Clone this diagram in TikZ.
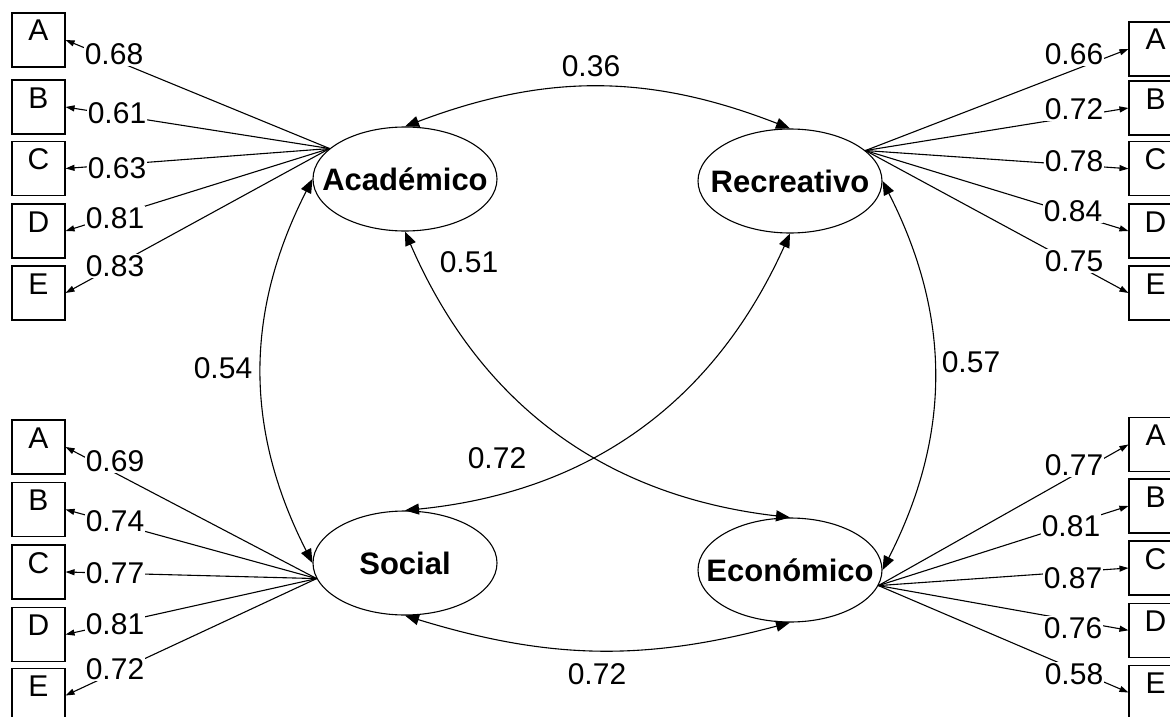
\documentclass[tikz,border=0pt]{standalone}
\usepackage{fontspec}
\setmainfont{Liberation Sans}
\usetikzlibrary{arrows.meta,positioning,shapes.geometric}

\tikzset{
	factor/.style={ellipse, draw, line width=1.1pt, minimum width=184pt, minimum height=104pt, inner xsep=-22pt, inner ysep=0pt, font=\fontsize{31}{31}\selectfont\bfseries},
	item/.style={rectangle, draw, line width=1.1pt, minimum width=53pt, inner xsep=0pt, inner ysep=0pt, text height=28pt, text depth=26pt, font=\fontsize{30}{30}\selectfont},
	load/.style={line width=1.1pt, -{Triangle[length=9pt,width=6pt]}},
	cov/.style={line width=1.1pt, {Triangle[length=14pt,width=11pt]}-{Triangle[length=14pt,width=11pt]}},
	coef/.style={fill=white, inner sep=1pt, font=\fontsize{30}{30}\selectfont},
}

\begin{document}
\begin{tikzpicture}[x=1pt,y=1pt,yscale=-1]
	\clip (0,0) rectangle (1170,717); %right boxes are cut at the edge

	%factors
	\node[factor] (acad) at (405,179) {Académico};
	\node[factor] (recr) at (790,181) {Recreativo};
	\node[factor] (soc) at (405,563) {Social};
	\node[factor] (econ) at (790,570) {Económico};

	%Académico items
	\foreach \l/\y/\x/\yy/\v in {A/40/114/54/0.68, B/107/117/113/0.61, C/168.5/117/168/0.63, D/231/115/218/0.81, E/293/115/266/0.83} {
		\node[item] (ac\l) at (38.5,\y) {\l};
		\draw[load] (acad.158) -- (ac\l.east);
		\node[coef] (acv\l) at (\x,\yy) {\v};
	}
	%Recreativo items
	\foreach \l/\y/\x/\yy/\v in {A/49/1074/54/0.66, B/108/1074/109/0.72, C/168.7/1074/161/0.78, D/231/1073/211/0.84, E/293/1074/261/0.75} {
		\node[item] (re\l) at (1155.5,\y) {\l};
		\draw[load] (recr.22) -- (re\l.west);
		\node[coef] (rev\l) at (\x,\yy) {\v};
	}
	%Social items
	\foreach \l/\y/\x/\yy/\v in {A/447/115/461/0.69, B/509.5/115/521/0.74, C/572/115/573/0.77, D/634.5/115/624/0.81, E/695.5/115/669/0.72} {
		\node[item] (so\l) at (38.5,\y) {\l};
		\draw[load] (soc.190) -- (so\l.east);
		\node[coef] (sov\l) at (\x,\yy) {\v};
	}
	%Económico items
	\foreach \l/\y/\x/\yy/\v in {A/444.5/1074/465/0.77, B/506/1071/526/0.81, C/568/1073/578/0.87, D/630.3/1073/628/0.76, E/692.5/1074/674/0.58} {
		\node[item] (ec\l) at (1155.5,\y) {\l};
		\draw[load] (econ.-10) -- (ec\l.west);
		\node[coef] (ecv\l) at (\x,\yy) {\v};
	}

	%correlations (yscale=-1 turns the bends round)
	\draw[cov] (acad.north) to[bend right=21] (recr.north);
	\draw[cov] (soc.south) to[bend left=16] (econ.south);
	\draw[cov] (acad.west) to[bend left=27] (soc.west);
	\draw[cov] (recr.east) to[bend right=27] (econ.east);
	\draw[cov] (acad.south) to[bend left=30] (econ.north);
	\draw[cov] (recr.south) to[bend right=30] (soc.north);

	\node[coef] (r36) at (591,66) {0.36};
	\node[coef] (r72b) at (597,674) {0.72};
	\node[coef] (r54) at (223,368) {0.54};
	\node[coef] (r57) at (971,362) {0.57};
	\node[coef] (r51) at (469,262) {0.51};
	\node[coef] (r72m) at (497,458) {0.72};
\end{tikzpicture}
\end{document}
